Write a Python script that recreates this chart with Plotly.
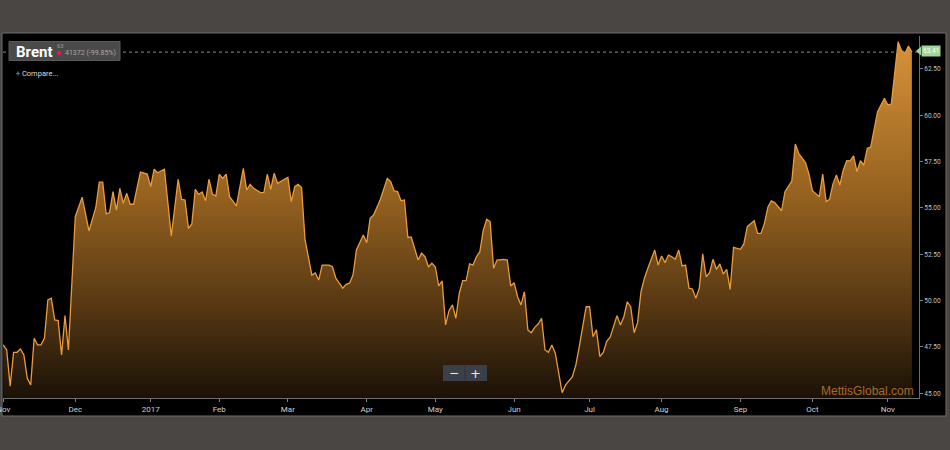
import pandas as pd
import plotly.graph_objects as go

# ---------------- data ----------------
holidays = ["2016-11-24", "2017-01-02", "2017-01-16"]
sessions = pd.bdate_range("2016-11-01", "2017-11-30")
sessions = sessions[~sessions.isin(pd.to_datetime(holidays))]

# trading-day number (0 = 1 Nov 2016) of each visible vertex, and the Brent price there
trading_day = [
    0, 1, 2, 3, 4, 5, 6, 7, 8, 9, 10, 11, 12, 13, 14, 15, 16, 17, 18, 19,
    21, 23, 25, 27, 28, 29, 30, 31, 32, 33, 34, 35, 36, 37, 38, 40, 42,
    43, 44, 45, 47, 49, 51, 52, 53, 54, 55, 56, 57, 58, 59, 60, 61, 62,
    63, 64, 65, 66, 68, 70, 71, 72, 73, 75, 76, 77, 78, 79, 80,
    83, 84, 85, 86, 87, 88, 90, 91, 92, 93, 95, 96, 97, 99, 100, 101, 102, 103, 105,
    106, 107, 108, 110, 112, 113, 114, 115, 116, 117, 118, 119, 121, 122, 123, 124, 125,
    126, 127, 128, 129, 130, 131, 132, 133, 134, 135, 136, 137, 138, 139, 140, 141, 142, 143, 144, 146, 147, 148,
    149, 150, 151, 152, 153, 154, 155, 156, 157, 158, 159, 160, 161, 163, 164, 166, 167, 168, 170,
    171, 172, 173, 174, 175, 176, 177, 179, 180, 181, 182, 183, 184, 185, 186, 187, 188, 190, 191,
    192, 193, 194, 195, 196, 197, 198, 199, 200, 201, 202, 203, 204, 205, 206, 207, 208, 209, 210, 211, 212,
    213, 215, 216, 217, 219, 220, 221, 222, 223, 224, 225, 227, 228, 230, 231, 232, 234, 235, 236,
    238, 239, 240, 241, 242, 243, 244, 245, 246, 247, 248, 249, 250, 251, 252, 253, 255, 257, 258, 259,
    261, 262, 263, 264, 265,
]
price = [
    47.61, 47.34, 45.39, 47.21, 47.21, 47.39, 47.07, 45.81, 45.45, 47.97, 47.61, 47.61, 47.97, 50.04, 50.13, 48.96, 48.92, 47.07, 49.19, 47.34,
    54.53, 55.58, 53.76, 55.04, 56.39, 56.39, 54.68, 54.75, 55.88, 54.89, 56.06, 55.25, 55.79, 55.20, 55.20, 56.94, 56.83,
    56.15, 57.09, 56.90, 57.09, 53.49, 56.55, 55.47, 55.43, 53.90, 54.14, 56.01, 55.74, 55.86, 55.39, 56.55, 55.74, 55.65,
    56.82, 56.60, 56.83, 55.61, 55.11, 57.14, 55.97, 56.28, 56.06, 55.83, 55.83, 56.82, 56.01, 56.87, 56.33,
    56.66, 55.34, 56.15, 56.28, 56.10, 53.30, 51.38, 51.50, 51.11, 51.92, 51.92, 51.83, 51.21, 50.67, 50.88, 50.94, 51.38, 52.73, 53.54,
    53.13, 54.44, 54.62, 55.47, 56.60, 56.42, 55.92, 55.88, 55.39, 55.43, 53.42, 53.42, 52.19, 52.56, 52.37, 51.83, 52.02,
    51.83, 50.79, 51.06, 48.69, 49.46, 49.77, 49.05, 50.40, 51.08, 51.08, 51.98, 51.92, 52.37, 52.64, 53.81, 54.39, 54.26, 51.75, 52.19, 52.23, 52.19, 50.79,
    50.97, 50.21, 49.77, 50.48, 48.42, 48.27, 48.56, 48.74, 49.05, 47.34, 47.21, 47.61, 47.16, 45.03, 45.45, 45.90, 46.53, 47.52, 49.67,
    49.67, 48.05, 48.42, 46.98, 47.21, 47.80, 48.03, 49.19, 48.69, 49.13, 49.94, 49.67, 48.27, 48.81, 50.48, 51.21, 51.75, 52.73, 51.92,
    52.41, 52.05, 52.46, 52.37, 52.23, 52.73, 51.87, 51.92, 50.67, 50.63, 50.13, 50.67, 52.52, 51.29, 51.51, 52.23, 51.69, 51.98, 51.44, 51.69, 50.61,
    52.88, 52.77, 53.06, 53.99, 54.31, 53.63, 53.63, 54.17, 55.04, 55.38, 55.29, 54.85, 55.88, 56.47, 58.45, 57.95, 57.44, 56.83, 55.93,
    55.61, 56.83, 55.34, 55.47, 56.30, 56.78, 56.24, 57.05, 57.55, 57.54, 57.81, 56.96, 57.55, 57.32, 58.22, 58.28, 60.20, 60.92, 60.56, 60.61,
    63.97, 63.49, 63.35, 63.74, 63.41,
]

tick_dates = ["2016-11-01", "2016-12-01", "2017-01-03", "2017-02-01", "2017-03-01", "2017-04-03",
              "2017-05-01", "2017-06-01", "2017-07-03", "2017-08-01", "2017-09-01", "2017-10-02",
              "2017-11-01"]
tick_labels = ["Nov", "Dec", "2017", "Feb", "Mar", "Apr", "May", "Jun", "Jul", "Aug", "Sep", "Oct", "Nov"]
y_ticks = [45.0, 47.5, 50.0, 52.5, 55.0, 57.5, 60.0, 62.5]

last_price = price[-1]
dates = sessions[trading_day]

# ---------------- figure ----------------
fig = go.Figure()
fig.add_trace(go.Scatter(
    x=dates, y=price, mode="lines",
    line=dict(color="#e99b3d", width=1.3),
    fill="tozeroy",
    fillgradient=dict(type="vertical", start=44.75, stop=64.28,
                      colorscale=[[0, "#1a1107"], [0.27, "#5a3a14"], [0.55, "#93601f"], [1, "#da943a"]]),
    hoverinfo="skip", showlegend=False,
))

W, H = 950, 450
L, R, T, B = 3, 31, 36, 52
pw, ph = W - L - R, H - T - B


def px(x):
    return (x - L) / pw


def py(y):
    return (H - B - y) / ph


shapes = [
    # black chart frame
    dict(type="rect", xref="paper", yref="paper", x0=px(2), x1=px(946), y0=py(416), y1=py(33),
         fillcolor="#000000", line=dict(color="#6e6e6e", width=1), layer="below"),
    # dashed last-price line
    dict(type="line", xref="paper", yref="y", x0=0, x1=1, y0=last_price, y1=last_price,
         line=dict(color="#8c8c8c", width=1, dash="3px,3px")),
    # title box
    dict(type="rect", xref="paper", yref="paper", x0=px(9), x1=px(120), y0=py(60.5), y1=py(41.5),
         fillcolor="#4a4a4a", line=dict(color="#5a5a5a", width=1)),
    # red dot
    dict(type="circle", xref="paper", yref="paper", x0=px(56.8), x1=px(61.4), y0=py(55.3), y1=py(50.7),
         fillcolor="#d81e4c", line=dict(width=0)),
    # green arrow of price label
    dict(type="path", xref="paper", yref="paper",
         path=f"M {px(916)},{py(51)} L {px(921)},{py(46.5)} L {px(921)},{py(55.5)} Z",
         fillcolor="#9fd69a", line=dict(width=0)),
    # zoom buttons
    dict(type="rect", xref="paper", yref="paper", x0=px(443), x1=px(487), y0=py(381), y1=py(365),
         fillcolor="#3b4048", line=dict(width=0)),
    dict(type="line", xref="paper", yref="paper", x0=px(465), x1=px(465), y0=py(380), y1=py(366),
         line=dict(color="#30343a", width=1)),
]

annotations = [
    dict(text="<b>Brent</b>", x=px(14), y=py(51.5), xref="paper", yref="paper", xanchor="left",
         yanchor="middle", showarrow=False, font=dict(family="Roboto", size=15, color="#ffffff")),
    dict(text="63", x=px(55), y=py(45), xref="paper", yref="paper", xanchor="left", yanchor="middle",
         showarrow=False, font=dict(family="Roboto", size=6, color="#9a9a9a")),
    dict(text="41372 (-99.85%)", x=px(63), y=py(53), xref="paper", yref="paper", xanchor="left",
         yanchor="middle", showarrow=False, font=dict(family="Roboto", size=7, color="#a8a8a8")),
    dict(text="<span style='color:#4a7ad8'><b>+</b></span> Compare...", x=px(14), y=py(73),
         xref="paper", yref="paper", xanchor="left", yanchor="middle", showarrow=False,
         font=dict(family="Roboto", size=7.5, color="#dddddd")),
    dict(text=f"{last_price:.2f}", x=px(931), y=py(51), xref="paper", yref="paper", xanchor="center",
         yanchor="middle", showarrow=False, bgcolor="#9fd69a", borderpad=1,
         font=dict(family="Roboto", size=6.5, color="#ffffff")),
    dict(text="MettisGlobal.com", x=px(867), y=py(391), xref="paper", yref="paper", xanchor="center",
         yanchor="middle", showarrow=False, font=dict(family="Liberation Sans", size=12, color="#a8692a")),
    dict(text="−", x=px(454), y=py(373), xref="paper", yref="paper", xanchor="center", yanchor="middle",
         showarrow=False, font=dict(family="DejaVu Sans", size=12, color="#e8e8e8")),
    dict(text="+", x=px(476), y=py(373), xref="paper", yref="paper", xanchor="center", yanchor="middle",
         showarrow=False, font=dict(family="DejaVu Sans", size=13, color="#e8e8e8")),
]

fig.update_layout(
    width=W, height=H, autosize=False,
    margin=dict(l=L, r=R, t=T, b=B, pad=0, autoexpand=False),
    paper_bgcolor="#494643", plot_bgcolor="#000000",
    shapes=shapes, annotations=annotations,
    font=dict(family="Roboto", color="#cccccc"),
    hovermode=False,
)
fig.update_xaxes(
    type="date",
    range=["2016-10-31 22:00", "2017-11-14 02:00"],
    rangebreaks=[dict(bounds=["sat", "mon"]), dict(values=holidays)],
    tickvals=tick_dates, ticktext=tick_labels,
    ticklabeloverflow="allow", automargin=False,
    ticks="outside", ticklen=3, tickcolor="#808080",
    tickfont=dict(family="Roboto", size=8, color="#d0d0d0"),
    showgrid=False, zeroline=False,
    showline=True, linecolor="#6e6e6e", linewidth=1,
)
fig.update_yaxes(
    side="right", range=[44.746, 64.28], automargin=False,
    tickvals=y_ticks, tickformat=".2f",
    ticks="outside", ticklen=3, tickcolor="#808080",
    tickfont=dict(family="Roboto", size=6.5, color="#c0c0c0"),
    showgrid=False, zeroline=False,
    showline=True, linecolor="#6e6e6e", linewidth=1,
)

fig.write_html(
    "out.html",
    config={"displayModeBar": False},
    post_script="document.body.style.margin='0';document.body.style.background='#494643';",
)
